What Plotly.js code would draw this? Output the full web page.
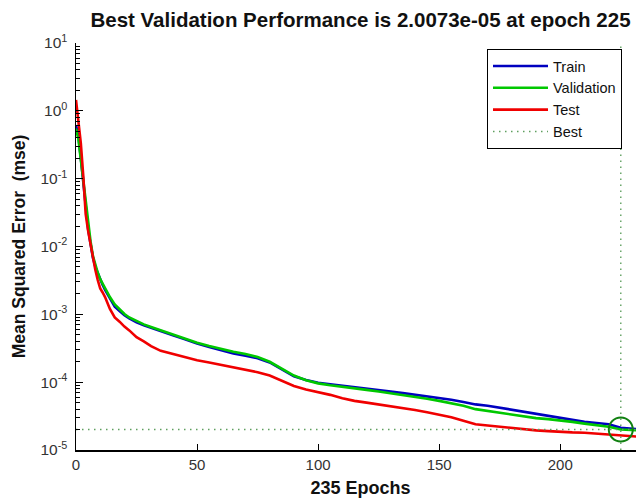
<!DOCTYPE html>
<html>
<head>
<meta charset="utf-8">
<script src="https://cdn.plot.ly/plotly-3.0.1.min.js"></script>
<style>
  html, body { margin: 0; padding: 0; background: #fff; overflow: hidden; }
  #plot { width: 660px; height: 502px; }
</style>
</head>
<body>
<div id="plot"></div>
<script>
// Training record: mean squared error per epoch for each data split
const epochs = [0,1,2,3,4,5,6,7,8,9,10,11,12,14,16,18,20,22,25,28,31,35,40,45,50,55,60,65,70,75,80,85,90,95,100,105,110,115,120,125,130,135,140,145,150,155,160,165,170,175,180,185,190,195,200,205,210,215,220,225,230,235];

const trainPerf = [0.62,0.42,0.2,0.09,0.036,0.018,0.011,0.0068,0.0050,0.0040,0.0032,0.0027,0.0023,0.0017,0.0013,0.00112,9.7e-4,8.7e-4,7.6e-4,6.9e-4,6.3e-4,5.6e-4,4.9e-4,4.3e-4,3.7e-4,3.3e-4,2.95e-4,2.65e-4,2.45e-4,2.25e-4,1.95e-4,1.55e-4,1.22e-4,1.08e-4,9.8e-5,9.3e-5,8.9e-5,8.5e-5,8.1e-5,7.7e-5,7.3e-5,6.9e-5,6.5e-5,6.2e-5,5.9e-5,5.5e-5,5.1e-5,4.7e-5,4.5e-5,4.2e-5,3.9e-5,3.65e-5,3.4e-5,3.2e-5,3.0e-5,2.75e-5,2.6e-5,2.5e-5,2.4e-5,2.12e-5,2.05e-5,2.0e-5];

const valPerf = [0.55,0.38,0.19,0.095,0.04,0.02,0.012,0.0072,0.0052,0.0041,0.0033,0.0028,0.0024,0.0018,0.0014,0.00118,0.00101,9.0e-4,7.9e-4,7.1e-4,6.5e-4,5.8e-4,5.0e-4,4.4e-4,3.8e-4,3.4e-4,3.05e-4,2.8e-4,2.6e-4,2.35e-4,2.0e-4,1.6e-4,1.25e-4,1.07e-4,9.6e-5,9.0e-5,8.6e-5,8.1e-5,7.7e-5,7.3e-5,6.9e-5,6.5e-5,6.1e-5,5.7e-5,5.3e-5,4.9e-5,4.5e-5,4.0e-5,3.75e-5,3.5e-5,3.3e-5,3.1e-5,2.95e-5,2.85e-5,2.75e-5,2.6e-5,2.45e-5,2.3e-5,2.2e-5,2.0073e-5,1.97e-5,1.93e-5];

const testPerf = [1.45,0.75,0.33,0.11,0.03,0.017,0.0105,0.0065,0.0045,0.0032,0.0024,0.0021,0.0018,0.0012,9.0e-4,7.8e-4,6.6e-4,5.8e-4,4.6e-4,4.0e-4,3.4e-4,2.9e-4,2.6e-4,2.3e-4,2.1e-4,1.95e-4,1.8e-4,1.65e-4,1.5e-4,1.4e-4,1.25e-4,1.05e-4,8.8e-5,7.8e-5,7.2e-5,6.5e-5,5.8e-5,5.3e-5,5.0e-5,4.7e-5,4.4e-5,4.2e-5,3.9e-5,3.6e-5,3.3e-5,3.05e-5,2.7e-5,2.4e-5,2.3e-5,2.2e-5,2.1e-5,2.0e-5,1.95e-5,1.9e-5,1.85e-5,1.82e-5,1.8e-5,1.75e-5,1.72e-5,1.65e-5,1.6e-5,1.55e-5];

const bestEpoch = 225;
const bestPerf = 2.0073e-5;
const totalEpochs = 235;
const seriesNames = ['Train', 'Validation', 'Test', 'Best'];
const xTicks = [0, 50, 100, 150, 200];
const yTicks = [1e-5, 1e-4, 1e-3, 1e-2, 1e-1, 1, 10];
const yTickText = ['10<sup>-5</sup>', '10<sup>-4</sup>', '10<sup>-3</sup>', '10<sup>-2</sup>',
                   '10<sup>-1</sup>', '10<sup>0</sup>', '10<sup>1</sup>'];

// log10 limits of the error axis
const yLogRange = [-5, 1];

// minor tick positions 2..9 within each decade
const yMinorTicks = [];
for (let d = yLogRange[0]; d < yLogRange[1]; d++) {
  for (let k = 2; k <= 9; k++) yMinorTicks.push(k * Math.pow(10, d));
}

const FONT = 'Arial, "Liberation Sans", sans-serif';
const bestColor = '#5f9f5f';

const traces = [
  { x: epochs, y: trainPerf, name: seriesNames[0], mode: 'lines',
    line: { color: '#0000c0', width: 2.6 } },
  { x: epochs, y: valPerf, name: seriesNames[1], mode: 'lines',
    line: { color: '#00c800', width: 2.6 } },
  { x: epochs, y: testPerf, name: seriesNames[2], mode: 'lines',
    line: { color: '#f00000', width: 2.6 } },
  // dotted guides through the best validation point
  { x: [bestEpoch, bestEpoch, null, 0, totalEpochs],
    y: [Math.pow(10, yLogRange[0]), Math.pow(10, yLogRange[1]), null, bestPerf, bestPerf],
    name: seriesNames[3], mode: 'lines', connectgaps: false,
    line: { color: bestColor, width: 1.4, dash: '1.5px,4.5px' } },
  { x: [bestEpoch], y: [bestPerf], mode: 'markers', showlegend: false,
    marker: { symbol: 'circle-open', size: 24, color: '#108010', line: { width: 2, color: '#108010' } } }
];

const titleText = 'Best Validation Performance is ' +
  bestPerf.toExponential(4).replace(/e([+-])(\d)$/, 'e$10$2') + ' at epoch ' + bestEpoch;

const layout = {
  width: 660, height: 502,
  margin: { l: 76, r: 15, t: 43, b: 52 },
  paper_bgcolor: '#fff', plot_bgcolor: '#fff',
  font: { family: FONT, color: '#222', size: 14 },
  showlegend: true,
  title: { text: titleText, font: { family: FONT, size: 20.5, color: '#111', weight: 'bold' },
           xref: 'paper', x: 0.5, xanchor: 'center', yref: 'container', y: 1 - 20 / 502, yanchor: 'middle' },
  xaxis: {
    range: [0, totalEpochs], tickvals: xTicks, ticks: 'inside', ticklen: 6, tickwidth: 1,
    tickcolor: '#000', showline: true, linecolor: '#000', linewidth: 1.5, mirror: false,
    showgrid: false, zeroline: false, tickfont: { size: 15, color: '#333' },
    title: { text: '235 Epochs', font: { size: 18, color: '#111', weight: 'bold' }, standoff: 10 }
  },
  yaxis: {
    type: 'log', range: yLogRange, tickvals: yTicks, ticktext: yTickText,
    ticks: 'inside', ticklen: 7, tickwidth: 1, tickcolor: '#000', ticklabelstandoff: 4,
    showline: true, linecolor: '#000', linewidth: 1.5, mirror: false,
    showgrid: false, zeroline: false, tickfont: { size: 15.5, color: '#333' },
    title: { text: 'Mean Squared Error  (mse)', font: { size: 17.5, color: '#111', weight: 'bold' }, standoff: 10 }
  },
  // second left axis carrying only the short minor ticks
  yaxis2: {
    type: 'log', range: yLogRange, overlaying: 'y', side: 'left', anchor: 'x',
    tickvals: yMinorTicks, showticklabels: false, ticks: 'inside', ticklen: 4,
    tickwidth: 1, tickcolor: '#000', showgrid: false, zeroline: false, showline: false
  },
  legend: {
    x: (487 - 76) / 569, xanchor: 'left', y: 1 - 6 / 407, yanchor: 'top',
    bgcolor: '#fff', bordercolor: '#000', borderwidth: 1,
    font: { family: FONT, size: 14.5, color: '#111' }, itemwidth: 55,
    tracegroupgap: 0
  }
};

// an invisible trace keeps the minor-tick axis alive
traces.push({ x: [0], y: [1], yaxis: 'y2', mode: 'none', showlegend: false, hoverinfo: 'skip' });

Plotly.newPlot('plot', traces, layout, { displayModeBar: false, staticPlot: true });
</script>
</body>
</html>
